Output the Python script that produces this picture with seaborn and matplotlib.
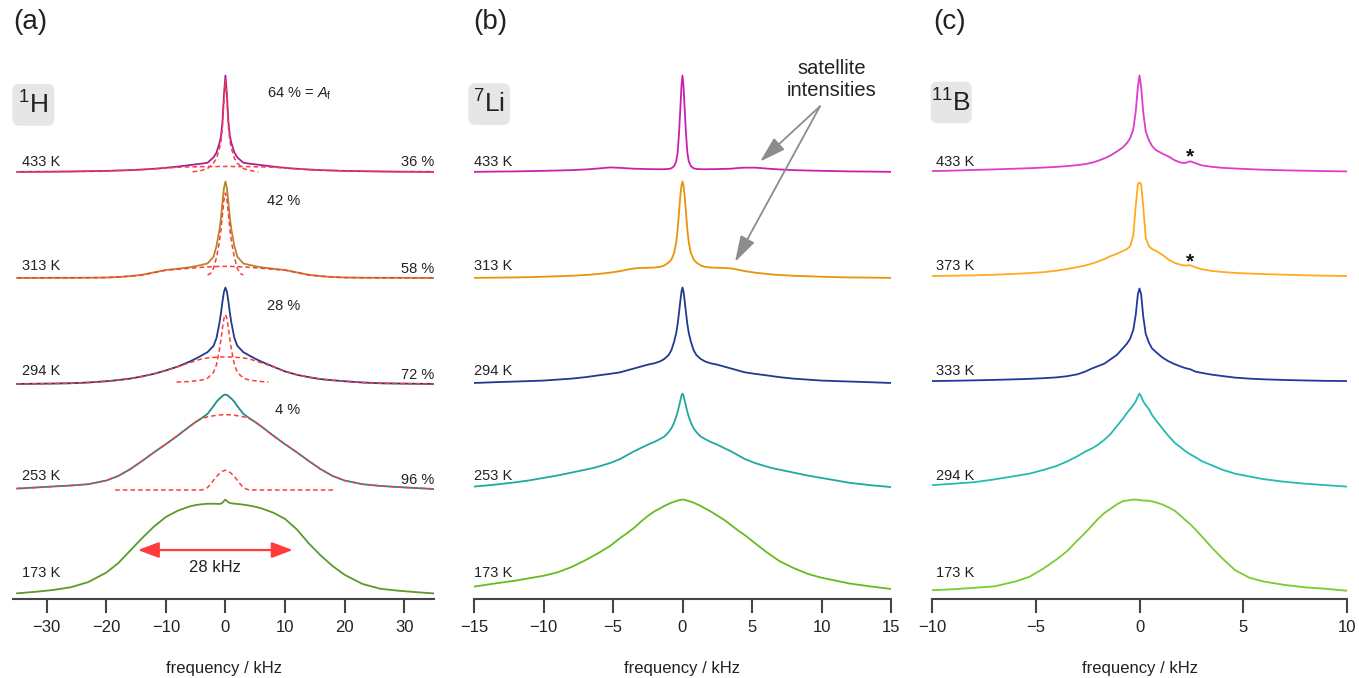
import numpy as np
import seaborn as sns
import matplotlib.pyplot as plt
from matplotlib.patches import FancyBboxPatch
from matplotlib.transforms import IdentityTransform

# ---- (a) 1H spectra, common frequency grid (kHz) ----
FREQ_A = [-35, -32, -29, -26, -23, -20, -18, -16, -14, -12, -10, -8, -6, -5, -4, -3, -2, -1.5, -1, -0.75, -0.5, -0.25,
          0, 0.25, 0.5, 0.75, 1, 1.5, 2, 3, 4, 5, 6, 8, 10, 12, 14, 16, 18, 20, 23, 26, 29, 32, 35]
H173 = [0.028, 0.043, 0.062, 0.09, 0.145, 0.243, 0.34, 0.47, 0.6, 0.72, 0.82, 0.885, 0.93, 0.943, 0.952, 0.957, 0.957,
        0.956, 0.955, 0.958, 0.968, 0.985, 1.0, 0.985, 0.972, 0.965, 0.962, 0.958, 0.955, 0.948, 0.938, 0.926, 0.91,
        0.865, 0.8, 0.69, 0.545, 0.42, 0.31, 0.22, 0.125, 0.075, 0.055, 0.04, 0.027]
H253 = [0.015, 0.025, 0.036, 0.046, 0.06, 0.098, 0.145, 0.215, 0.3, 0.39, 0.475, 0.565, 0.66, 0.705, 0.745, 0.79, 0.87,
        0.915, 0.948, 0.96, 0.975, 0.985, 0.99, 0.985, 0.975, 0.96, 0.948, 0.915, 0.87, 0.79, 0.745, 0.705, 0.66,
        0.565, 0.475, 0.39, 0.3, 0.215, 0.145, 0.098, 0.06, 0.042, 0.03, 0.02, 0.01]
H294 = [0, 0.002, 0.004, 0.007, 0.015, 0.028, 0.04, 0.055, 0.078, 0.105, 0.14, 0.18, 0.232, 0.262, 0.295, 0.33, 0.395,
        0.476, 0.635, 0.735, 0.855, 0.955, 1.0, 0.955, 0.855, 0.735, 0.635, 0.476, 0.395, 0.33, 0.295, 0.262, 0.232,
        0.18, 0.13, 0.095, 0.07, 0.05, 0.038, 0.028, 0.015, 0.007, 0.004, 0.002, 0]
H313 = [0, 0, 0.001, 0.001, 0.002, 0.004, 0.009, 0.018, 0.032, 0.057, 0.082, 0.095, 0.11, 0.122, 0.135, 0.15, 0.22,
        0.33, 0.5, 0.62, 0.78, 0.93, 1.0, 0.93, 0.78, 0.62, 0.5, 0.33, 0.22, 0.15, 0.135, 0.122, 0.11,
        0.095, 0.082, 0.057, 0.032, 0.018, 0.009, 0.004, 0.002, 0.001, 0.001, 0, 0]
H433 = [0, 0.001, 0.002, 0.004, 0.007, 0.01, 0.014, 0.018, 0.024, 0.032, 0.042, 0.055, 0.07, 0.078, 0.085, 0.095, 0.15,
        0.2, 0.3, 0.37, 0.52, 0.8, 1.0, 0.8, 0.52, 0.37, 0.3, 0.2, 0.15, 0.095, 0.085, 0.078, 0.07,
        0.055, 0.042, 0.032, 0.024, 0.018, 0.014, 0.01, 0.007, 0.004, 0.002, 0.001, 0]

# broad (rigid) fit components on the same grid
H253_broad = [0.015, 0.025, 0.036, 0.046, 0.06, 0.098, 0.145, 0.215, 0.3, 0.39, 0.475, 0.565, 0.66, 0.705, 0.74, 0.76,
              0.77, 0.775, 0.778, 0.78, 0.78, 0.78, 0.78, 0.78, 0.78, 0.78, 0.778, 0.775, 0.77, 0.76, 0.74, 0.705, 0.66,
              0.565, 0.475, 0.39, 0.3, 0.215, 0.145, 0.098, 0.06, 0.042, 0.03, 0.02, 0.01]
H294_broad = [0, 0.002, 0.004, 0.007, 0.015, 0.028, 0.04, 0.055, 0.078, 0.105, 0.14, 0.18, 0.22, 0.24, 0.26, 0.27,
              0.275, 0.277, 0.279, 0.28, 0.28, 0.28, 0.28, 0.28, 0.28, 0.28, 0.279, 0.277, 0.275, 0.27, 0.26, 0.24, 0.22,
              0.18, 0.13, 0.095, 0.07, 0.05, 0.038, 0.028, 0.015, 0.007, 0.004, 0.002, 0]
H313_broad = [0, 0, 0.001, 0.001, 0.002, 0.004, 0.009, 0.018, 0.03, 0.055, 0.08, 0.09, 0.1, 0.105, 0.11, 0.114,
              0.117, 0.118, 0.119, 0.12, 0.12, 0.12, 0.12, 0.12, 0.12, 0.12, 0.119, 0.118, 0.117, 0.114, 0.11, 0.105, 0.1,
              0.09, 0.08, 0.055, 0.03, 0.018, 0.009, 0.004, 0.002, 0.001, 0.001, 0, 0]
H433_broad = [0, 0.001, 0.002, 0.004, 0.007, 0.01, 0.014, 0.018, 0.024, 0.03, 0.04, 0.048, 0.052, 0.053, 0.054, 0.055,
              0.055, 0.055, 0.056, 0.056, 0.056, 0.056, 0.056, 0.056, 0.056, 0.056, 0.056, 0.055, 0.055, 0.055, 0.054,
              0.053, 0.052, 0.048, 0.04, 0.03, 0.024, 0.018, 0.014, 0.01, 0.007, 0.004, 0.002, 0.001, 0]

# narrow (mobile) fit components
F253_narrow = [-18.5, -4, -3.5, -3, -2.5, -2, -1.5, -1, -0.5, 0, 0.5, 1, 1.5, 2, 2.5, 3, 3.5, 4, 18.4]
H253_narrow = [0, 0, 0.01, 0.025, 0.06, 0.1, 0.14, 0.17, 0.195, 0.205, 0.195, 0.17, 0.14, 0.1, 0.06, 0.025, 0.01, 0, 0]
F294_narrow = [-8.2, -6, -4, -3, -2, -1.5, -1, -0.75, -0.5, -0.25, 0, 0.25, 0.5, 0.75, 1, 1.5, 2, 3, 4, 6, 7.2]
H294_narrow = [0.02, 0.025, 0.04, 0.06, 0.12, 0.2, 0.36, 0.46, 0.58, 0.68, 0.72, 0.68, 0.58, 0.46, 0.36, 0.2, 0.12,
               0.06, 0.04, 0.025, 0.02]
F313_narrow = [-3, -2.5, -2, -1.5, -1, -0.75, -0.5, -0.25, 0, 0.25, 0.5, 0.75, 1, 1.5, 2, 2.5, 3]
H313_narrow = [0.03, 0.045, 0.1, 0.21, 0.38, 0.5, 0.66, 0.81, 0.88, 0.81, 0.66, 0.5, 0.38, 0.21, 0.1, 0.045, 0.03]
F433_narrow = [-5.5, -4, -3, -2, -1.5, -1, -0.75, -0.5, -0.25, 0, 0.25, 0.5, 0.75, 1, 1.5, 2, 3, 4, 5.5]
H433_narrow = [0, 0.015, 0.035, 0.09, 0.14, 0.245, 0.315, 0.465, 0.745, 0.945, 0.745, 0.465, 0.315, 0.245, 0.14,
               0.09, 0.035, 0.015, 0]

# ---- (b) 7Li spectra ----
FREQ_B = [-15, -13.5, -12, -11, -10, -9, -8, -7, -6.5, -6, -5.2, -4.5, -4, -3.5, -3, -2.5, -2, -1.6, -1.3, -1, -0.8,
          -0.6, -0.45, -0.35, -0.25, -0.15, -0.07, 0, 0.07, 0.15, 0.25, 0.35, 0.45, 0.6, 0.8, 1, 1.3, 1.6, 2, 2.5,
          3, 3.5, 4, 4.5, 5.2, 6, 6.5, 7, 8, 9, 10, 11, 12, 13.5, 15]
Li173 = [0.097, 0.13, 0.16, 0.185, 0.21, 0.245, 0.3, 0.37, 0.41, 0.45, 0.52, 0.6, 0.65, 0.705, 0.77, 0.83, 0.88,
         0.91, 0.935, 0.955, 0.968, 0.978, 0.985, 0.99, 0.994, 0.997, 1.0, 1.0, 1.0, 0.997, 0.994, 0.99, 0.985,
         0.978, 0.968, 0.955, 0.935, 0.91, 0.88, 0.835, 0.79, 0.735, 0.68, 0.63, 0.55, 0.46, 0.41, 0.36, 0.29,
         0.23, 0.19, 0.16, 0.13, 0.1, 0.073]
Li253 = [0.035, 0.055, 0.08, 0.1, 0.125, 0.15, 0.18, 0.21, 0.225, 0.245, 0.28, 0.32, 0.36, 0.4, 0.435, 0.47, 0.5,
         0.53, 0.555, 0.6, 0.64, 0.7, 0.76, 0.81, 0.87, 0.93, 0.98, 1.0, 0.98, 0.93, 0.87, 0.81, 0.76,
         0.7, 0.64, 0.6, 0.555, 0.53, 0.5, 0.47, 0.435, 0.4, 0.36, 0.32, 0.28, 0.245, 0.225, 0.21, 0.18,
         0.15, 0.125, 0.1, 0.075, 0.05, 0.03]
Li294 = [0.01, 0.018, 0.025, 0.03, 0.035, 0.045, 0.055, 0.07, 0.08, 0.09, 0.105, 0.12, 0.14, 0.16, 0.18, 0.2, 0.215,
         0.235, 0.26, 0.3, 0.35, 0.44, 0.53, 0.62, 0.74, 0.87, 0.96, 1.0, 0.96, 0.87, 0.74, 0.62, 0.53,
         0.44, 0.35, 0.3, 0.26, 0.235, 0.215, 0.2, 0.18, 0.16, 0.14, 0.12, 0.105, 0.09, 0.08, 0.07, 0.055,
         0.045, 0.035, 0.03, 0.025, 0.018, 0.01]
Li313 = [0.0, 0.003, 0.005, 0.008, 0.012, 0.017, 0.022, 0.03, 0.035, 0.042, 0.055, 0.07, 0.085, 0.098, 0.103, 0.105,
         0.108, 0.115, 0.13, 0.16, 0.19, 0.26, 0.37, 0.5, 0.68, 0.86, 0.96, 1.0, 0.96, 0.86, 0.68, 0.5, 0.37,
         0.26, 0.19, 0.16, 0.13, 0.115, 0.108, 0.105, 0.103, 0.098, 0.085, 0.07, 0.055, 0.042, 0.035, 0.03, 0.022,
         0.017, 0.012, 0.008, 0.005, 0.003, 0.0]
Li433 = [0.0, 0.003, 0.005, 0.008, 0.011, 0.014, 0.018, 0.025, 0.03, 0.036, 0.046, 0.042, 0.037, 0.033, 0.031, 0.029,
         0.028, 0.027, 0.028, 0.03, 0.037, 0.06, 0.11, 0.2, 0.4, 0.67, 0.9, 1.0, 0.9, 0.67, 0.4, 0.2, 0.11,
         0.06, 0.037, 0.03, 0.028, 0.027, 0.028, 0.029, 0.031, 0.033, 0.04, 0.044, 0.044, 0.035, 0.03, 0.025, 0.018,
         0.014, 0.011, 0.008, 0.005, 0.003, 0.0]

# ---- (c) 11B spectra ----
FREQ_C = [-10, -9, -8, -7, -6, -5.3, -4.6, -4, -3.5, -3, -2.6, -2.3, -2, -1.7, -1.4, -1.1, -0.8, -0.6, -0.45, -0.3,
          -0.18, -0.08, 0, 0.08, 0.18, 0.3, 0.45, 0.6, 0.8, 1.1, 1.4, 1.7, 2.0, 2.2, 2.45, 2.7, 3.0, 3.5, 4, 4.6,
          5.3, 6, 7, 8, 9, 10]
B173 = [0.06, 0.07, 0.085, 0.1, 0.15, 0.2, 0.29, 0.38, 0.465, 0.575, 0.66, 0.73, 0.8, 0.86, 0.905, 0.95, 0.985, 0.99,
        0.995, 1.0, 1.0, 0.998, 0.995, 0.993, 0.99, 0.99, 0.988, 0.982, 0.97, 0.95, 0.92, 0.885, 0.83, 0.79, 0.745,
        0.69, 0.62, 0.5, 0.39, 0.27, 0.19, 0.15, 0.115, 0.09, 0.075, 0.055]
B294 = [0.05, 0.065, 0.08, 0.11, 0.145, 0.17, 0.21, 0.25, 0.295, 0.35, 0.4, 0.43, 0.47, 0.52, 0.58, 0.66, 0.74, 0.8,
        0.84, 0.88, 0.92, 0.97, 1.0, 0.97, 0.92, 0.88, 0.84, 0.78, 0.72, 0.64, 0.56, 0.49, 0.44, 0.405, 0.37,
        0.34, 0.3, 0.255, 0.21, 0.17, 0.14, 0.112, 0.085, 0.065, 0.05, 0.035]
B333 = [0.03, 0.033, 0.037, 0.042, 0.048, 0.053, 0.06, 0.068, 0.08, 0.1, 0.13, 0.16, 0.185, 0.21, 0.255, 0.3, 0.37,
        0.42, 0.47, 0.56, 0.72, 0.93, 0.99, 0.93, 0.7, 0.52, 0.43, 0.37, 0.33, 0.275, 0.235, 0.205, 0.18, 0.165,
        0.152, 0.128, 0.115, 0.096, 0.082, 0.066, 0.055, 0.048, 0.041, 0.036, 0.032, 0.03]
B373 = [0.02, 0.023, 0.027, 0.033, 0.042, 0.05, 0.06, 0.075, 0.092, 0.112, 0.13, 0.148, 0.17, 0.195, 0.225, 0.25,
        0.28, 0.3, 0.33, 0.44, 0.75, 0.97, 0.99, 0.97, 0.74, 0.42, 0.33, 0.3, 0.28, 0.24, 0.19, 0.155, 0.135,
        0.128, 0.132, 0.11, 0.09, 0.072, 0.062, 0.052, 0.045, 0.04, 0.033, 0.027, 0.023, 0.02]
B433 = [0.008, 0.013, 0.02, 0.026, 0.033, 0.038, 0.045, 0.052, 0.06, 0.07, 0.082, 0.095, 0.115, 0.14, 0.17, 0.21,
        0.255, 0.3, 0.35, 0.44, 0.63, 0.88, 1.0, 0.88, 0.62, 0.42, 0.33, 0.27, 0.225, 0.19, 0.16, 0.12, 0.095,
        0.092, 0.11, 0.09, 0.068, 0.052, 0.042, 0.035, 0.028, 0.022, 0.016, 0.012, 0.008, 0.005]

TEMPS_AB = ["173 K", "253 K", "294 K", "313 K", "433 K"]
TEMPS_C = ["173 K", "294 K", "333 K", "373 K", "433 K"]
FRACT_MOBILE = ["4 %", "28 %", "42 %", "64 %"]
FRACT_RIGID = ["96 %", "72 %", "58 %", "36 %"]

COLORS_A = ["#5b9a2a", "#1e8c88", "#1f3c88", "#b8862a", "#a8209a"]
COLORS_B = ["#66bb1e", "#20a8a0", "#1f3a8f", "#e8930c", "#cc1fae"]
COLORS_C = ["#77cc33", "#22bbb0", "#1f3a9a", "#ffaa1e", "#dd3ccc"]
FIT_RED = "#ff3b3b"

sns.set_theme(style="white")
plt.rcParams["font.family"] = ["Liberation Sans", "DejaVu Sans"]
plt.rcParams["mathtext.fontset"] = "custom"
plt.rcParams["mathtext.rm"] = "Liberation Sans"
plt.rcParams["mathtext.it"] = "Liberation Sans:italic"

W, H = 1359, 678
fig = plt.figure(figsize=(W / 100, H / 100), dpi=100)
STEP = 1.1
YLIM = (-0.031, 6.183)
TXT = "#222222"


def px_axes(left, right):
    return fig.add_axes([left / W, 1 - 599 / H, (right - left) / W, 599 / H])


ax_a = px_axes(13.3, 434)
ax_b = px_axes(474, 891)
ax_c = px_axes(932.3, 1346.7)


def stack(ax, freq, traces, colors):
    for k, (vals, col) in enumerate(zip(traces, colors)):
        sns.lineplot(x=freq, y=np.asarray(vals) + k * STEP, ax=ax, color=col,
                     lw=1.3, estimator=None, sort=False)


stack(ax_a, FREQ_A, [H173, H253, H294, H313, H433], COLORS_A)
stack(ax_b, FREQ_B, [Li173, Li253, Li294, Li313, Li433], COLORS_B)
stack(ax_c, FREQ_C, [B173, B294, B333, B373, B433], COLORS_C)

# fit components in (a), drawn as red dashes on top
fits = [(FREQ_A, H253_broad, 1), (F253_narrow, H253_narrow, 1),
        (FREQ_A, H294_broad, 2), (F294_narrow, H294_narrow, 2),
        (FREQ_A, H313_broad, 3), (F313_narrow, H313_narrow, 3),
        (FREQ_A, H433_broad, 4), (F433_narrow, H433_narrow, 4)]
for f, vals, k in fits:
    sns.lineplot(x=f, y=np.asarray(vals) + k * STEP, ax=ax_a, color=FIT_RED, lw=1.1,
                 linestyle=(0, (3, 2)), estimator=None, sort=False)

# temperature labels
label_dy = [0.195, 0.099, 0.088, 0.078, 0.057]
for ax, x0, temps in [(ax_a, -34.2, TEMPS_AB), (ax_b, -15, TEMPS_AB), (ax_c, -9.8, TEMPS_C)]:
    for k, t in enumerate(temps):
        ax.text(x0, k * STEP + label_dy[k], t, fontsize=10.5, color=TXT, ha="left", va="baseline")

# mobile / rigid fractions in (a)
mob_pos = [(8.3, 1.89), (6.9, 2.962), (6.9, 4.058), (6.9, 5.174)]
rig_y = [1.164, 2.253, 3.356, 4.466]
for k in range(4):
    s = FRACT_MOBILE[k] + (r" = $A_\mathrm{f}$" if k == 3 else "")
    ax_a.text(mob_pos[k][0], mob_pos[k][1], s, fontsize=10.5, color=TXT, ha="left", va="baseline")
    ax_a.text(35.0, rig_y[k], FRACT_RIGID[k], fontsize=10.5, color=TXT, ha="right", va="baseline")

# 28 kHz width arrow
ax_a.annotate("", xy=(11.3, 0.477), xytext=(-14.7, 0.477),
              arrowprops=dict(arrowstyle="<|-|>,head_length=0.8,head_width=0.3", color=FIT_RED,
                              lw=1.6, shrinkA=0, shrinkB=0, mutation_scale=16))
ax_a.text(-1.76, 0.298, "28 kHz", fontsize=12, color=TXT, ha="center", va="center")

# satellite arrows in (b)
ax_b.text(10.73, 5.357, "satellite\nintensities", fontsize=14.5, color=TXT, ha="center", va="center",
          linespacing=1.15)
for tip in [(5.58, 4.507), (3.78, 3.466)]:
    ax_b.annotate("", xy=tip, xytext=(9.89, 5.08),
                  arrowprops=dict(arrowstyle="-|>,head_length=1.0,head_width=0.3", color="#8c8c8c",
                                  lw=1.3, shrinkA=0, shrinkB=0, mutation_scale=16))

# asterisks in (c)
for y in [4.498, 3.409]:
    ax_c.text(2.44, y, "*", fontsize=15, fontweight="bold", color="#111111", ha="center", va="baseline")

for ax, xlim, ticks in [(ax_a, (-35.6, 35.0), [-30, -20, -10, 0, 10, 20, 30]),
                        (ax_b, (-15, 15), [-15, -10, -5, 0, 5, 10, 15]),
                        (ax_c, (-10, 10), [-10, -5, 0, 5, 10])]:
    ax.set_xlim(xlim)
    ax.set_ylim(YLIM)
    ax.set_xticks(ticks)
    ax.set_yticks([])
    ax.set_ylabel("")
    for s in ["left", "right", "top"]:
        ax.spines[s].set_visible(False)
    ax.spines["bottom"].set_color("#454545")
    ax.spines["bottom"].set_linewidth(1.5)
    ax.tick_params(axis="x", bottom=True, direction="out", length=10, width=1.5, color="#454545",
                   labelsize=12, labelcolor=TXT, pad=5)
    ax.set_xlabel("frequency / kHz", fontsize=12, color=TXT, labelpad=19)
    ax.patch.set_alpha(0)

# panel letters and nucleus boxes (pixel coordinates)
for x, letter in [(13, "(a)"), (473, "(b)"), (933, "(c)")]:
    fig.text(x / W, 1 - 22 / H, letter, fontsize=20, color=TXT, ha="left", va="center")

for (x0, ytop, w, h), lab in [((12.3, 84, 42, 41.7), r"$^{1}$H"),
                              ((468.3, 83.3, 41.7, 41.7), r"$^{7}$Li"),
                              ((930.7, 81.7, 41, 41.6), r"$^{11}$B")]:
    fig.add_artist(FancyBboxPatch((x0, H - ytop - h), w, h, boxstyle="round,pad=0,rounding_size=7",
                                  transform=IdentityTransform(), fc="#e6e6e6", ec="none"))
    fig.text((x0 + w / 2) / W, 1 - (ytop + h / 2) / H, lab, fontsize=19, color=TXT,
             ha="center", va="center")

fig.savefig("out.png", dpi=100)
